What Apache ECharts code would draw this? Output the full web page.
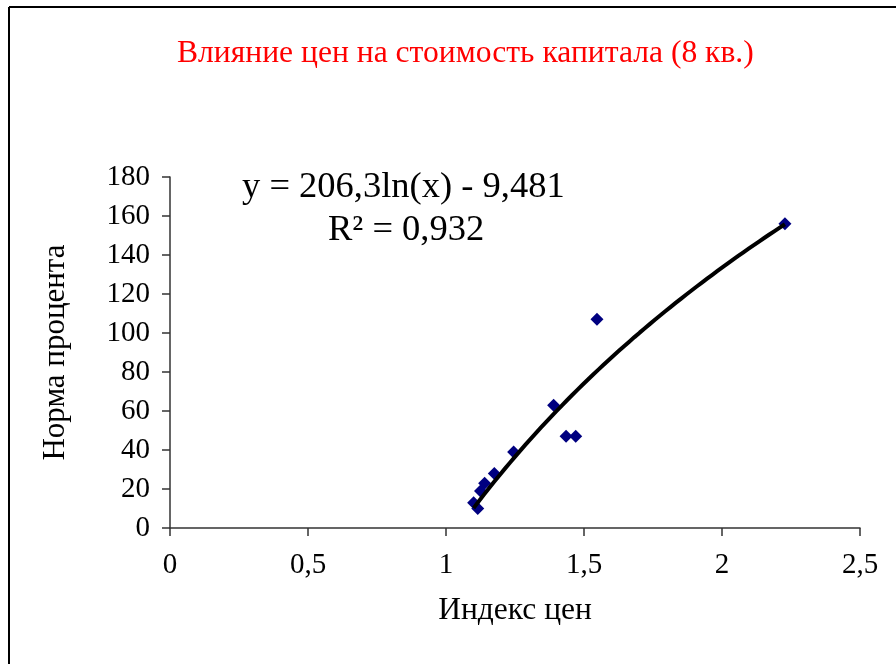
<!DOCTYPE html>
<html>
<head>
<meta charset="utf-8">
<script src="https://cdn.jsdelivr.net/npm/echarts@6/dist/echarts.min.js"></script>
<style>html,body{margin:0;padding:0;background:#fff}#c{width:896px;height:664px}</style>
</head>
<body>
<div id="c"></div>
<script>
const titleText = 'Влияние цен на стоимость капитала (8 кв.)';
const xName = 'Индекс цен';
const yName = 'Норма процента';
const priceIndex = [1.10, 1.115, 1.125, 1.14, 1.175, 1.245, 1.39, 1.435, 1.47, 1.547, 2.228];
const interestRate = [13, 10, 19, 23, 28, 39, 63, 47, 47, 107, 156];
const trendA = 206.3;
const trendB = -9.481;
const trendLabel = 'y = 206,3ln(x) - 9,481';
const r2Label = 'R² = 0,932';

const points = priceIndex.map((x, i) => [x, interestRate[i]]);
const xMin = Math.min(...priceIndex), xMax = Math.max(...priceIndex);
const trend = [];
const N = 60;
for (let i = 0; i <= N; i++) {
  const x = xMin + (xMax - xMin) * i / N;
  trend.push([x, trendA * Math.log(x) + trendB]);
}
const font = '"Liberation Serif", "Times New Roman", serif';
const chart = echarts.init(document.getElementById('c'));
chart.setOption({
  animation: false,
  backgroundColor: '#fff',
  title: {
    text: titleText, left: 172, top: 33,
    textStyle: { color: '#ff0000', fontFamily: font, fontSize: 31.6, fontWeight: 'normal' }
  },
  grid: { left: 170, right: 36, top: 177, bottom: 136 },
  xAxis: {
    type: 'value', min: 0, max: 2.5, interval: 0.5,
    name: xName, nameLocation: 'middle', nameGap: 67,
    nameTextStyle: { color: '#000', fontFamily: font, fontSize: 31.5 },
    axisLine: { show: true, lineStyle: { color: '#333', width: 1.5 } },
    axisTick: { show: true, length: 8, lineStyle: { color: '#333', width: 1.5 } },
    axisLabel: { color: '#000', fontFamily: font, fontSize: 29, margin: 23,
      formatter: v => String(v).replace('.', ',') },
    splitLine: { show: false }
  },
  yAxis: {
    type: 'value', min: 0, max: 180, interval: 20,
    name: yName, nameLocation: 'middle', nameGap: 99, nameRotate: 90,
    nameTextStyle: { color: '#000', fontFamily: font, fontSize: 31 },
    axisLine: { show: true, lineStyle: { color: '#333', width: 1.5 } },
    axisTick: { show: true, length: 8, lineStyle: { color: '#333', width: 1.5 } },
    axisLabel: { color: '#000', fontFamily: font, fontSize: 29, margin: 20 },
    splitLine: { show: false }
  },
  series: [
    {
      type: 'line', data: trend, showSymbol: false, smooth: false,
      lineStyle: { color: '#000', width: 4 }, z: 3
    },
    {
      type: 'scatter', data: points, symbol: 'diamond', symbolSize: 13,
      itemStyle: { color: '#000080', opacity: 1 }, z: 2
    }
  ],
  graphic: [
    { type: 'line', shape: { x1: 9, y1: 7, x2: 9, y2: 664 }, style: { stroke: '#000', lineWidth: 2 } },
    { type: 'line', shape: { x1: 9, y1: 7, x2: 896, y2: 7 }, style: { stroke: '#000', lineWidth: 2 } },
    { type: 'text', left: 242, top: 169, style: { text: trendLabel, fill: '#000', font: '36.5px ' + font } },
    { type: 'text', left: 328, top: 212, style: { text: r2Label, fill: '#000', font: '36.5px ' + font } }
  ]
});
</script>
</body>
</html>
